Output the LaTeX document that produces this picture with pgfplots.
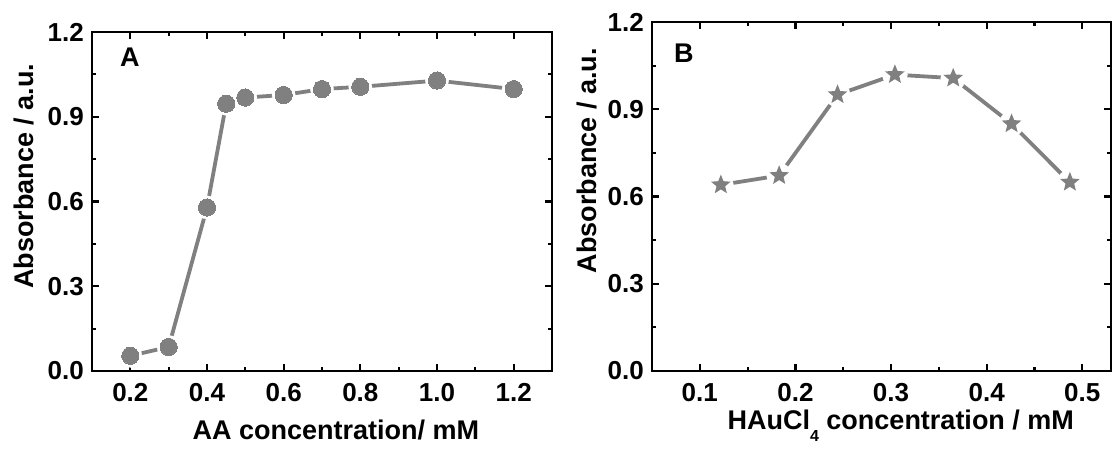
\documentclass[border=0pt]{standalone}
\usepackage{fontspec}
\setmainfont{Liberation Sans}
\usepackage{pgfplots}
\usepackage{pgfplotstable}
\pgfplotsset{compat=1.18}
\definecolor{dgray}{RGB}{128,128,128}

\pgfdeclareplotmark{fstar}{%
  \pgfpathmoveto{\pgfpointpolar{90}{\pgfplotmarksize}}%
  \pgfpathlineto{\pgfpointpolar{126}{0.44\pgfplotmarksize}}%
  \pgfpathlineto{\pgfpointpolar{162}{\pgfplotmarksize}}%
  \pgfpathlineto{\pgfpointpolar{198}{0.44\pgfplotmarksize}}%
  \pgfpathlineto{\pgfpointpolar{234}{\pgfplotmarksize}}%
  \pgfpathlineto{\pgfpointpolar{270}{0.44\pgfplotmarksize}}%
  \pgfpathlineto{\pgfpointpolar{306}{\pgfplotmarksize}}%
  \pgfpathlineto{\pgfpointpolar{342}{0.44\pgfplotmarksize}}%
  \pgfpathlineto{\pgfpointpolar{18}{\pgfplotmarksize}}%
  \pgfpathlineto{\pgfpointpolar{54}{0.44\pgfplotmarksize}}%
  \pgfpathclose
  \pgfusepathqfill
}

\pgfplotstableread{
x y
0.2 0.054
0.3 0.085
0.4 0.579
0.45 0.946
0.5 0.968
0.6 0.977
0.7 0.998
0.8 1.006
1.0 1.028
1.2 0.998
}\dataA

\pgfplotstableread{
x y
0.122 0.640
0.183 0.672
0.244 0.950
0.304 1.019
0.365 1.007
0.426 0.850
0.487 0.649
}\dataB

\pgfplotsset{myax/.style={
  scale only axis,
  axis line style={line width=2.6pt, line join=miter},
  tick style={line width=2.2pt, black},
  tick align=inside,
  major tick length=7pt, minor tick length=4pt,
  ymin=0, ymax=1.2, ytick={0,0.3,0.6,0.9,1.2}, minor y tick num=1,
  minor x tick num=1,
  ticklabel style={font=\bfseries\fontsize{26}{26}\selectfont},
  yticklabel style={anchor=east, inner sep=0pt, xshift=-8pt},
  xticklabel style={anchor=north, inner sep=0pt, yshift=-12pt},
  /pgf/number format/fixed,
  /pgf/number format/fixed zerofill,
  /pgf/number format/precision=1,
  /pgf/number format/assume math mode=true,
}}

\begin{document}
\begin{tikzpicture}
\path[use as bounding box] (0,0) rectangle (1113pt,450pt);

\begin{axis}[myax,
  at={(92pt,79pt)}, anchor=south west, width=460pt, height=339pt,
  xmin=0.1, xmax=1.3, xtick={0.2,0.4,0.6,0.8,1.0,1.2},
  xlabel={AA concentration/ mM},
  ylabel={Absorbance / a.u.},
  every axis x label/.style={at={(axis description cs:0.530,-0.203)}, anchor=base, font=\bfseries\fontsize{27}{30}\selectfont},
  every axis y label/.style={at={(axis description cs:-0.128,0.574)}, rotate=90, anchor=base, font=\bfseries\fontsize{27}{30}\selectfont},
]
\addplot[dgray, line width=3.8pt, no marks] table {\dataA};
\addplot[white, only marks, mark=*, mark size=11.6pt] table {\dataA};
\addplot[dgray, only marks, mark=*, mark size=8.6pt, mark options={line width=0pt}] table {\dataA};
\end{axis}

\begin{axis}[myax,
  at={(652pt,79pt)}, anchor=south west, width=459pt, height=349pt,
  xmin=0.05, xmax=0.53, xtick={0.1,0.2,0.3,0.4,0.5},
  xlabel={HAuCl\raisebox{-12pt}{\fontsize{16}{16}\selectfont 4} concentration / mM},
  ylabel={Absorbance / a.u.},
  every axis x label/.style={at={(axis description cs:0.542,-0.168)}, anchor=base, font=\bfseries\fontsize{27}{30}\selectfont},
  every axis y label/.style={at={(axis description cs:-0.120,0.602)}, rotate=90, anchor=base, font=\bfseries\fontsize{27}{30}\selectfont},
]
\addplot[dgray, line width=3.8pt, no marks] table {\dataB};
\addplot[white, only marks, mark=*, mark size=12.5pt] table {\dataB};
\addplot[dgray, only marks, mark=fstar, mark size=10.3pt] table {\dataB};
\end{axis}

\node[anchor=base west, inner sep=0pt, font=\bfseries\fontsize{27}{27}\selectfont] at (120pt,383pt) {A};
\node[anchor=base west, inner sep=0pt, font=\bfseries\fontsize{27}{27}\selectfont] at (674pt,387pt) {B};
\end{tikzpicture}
\end{document}
